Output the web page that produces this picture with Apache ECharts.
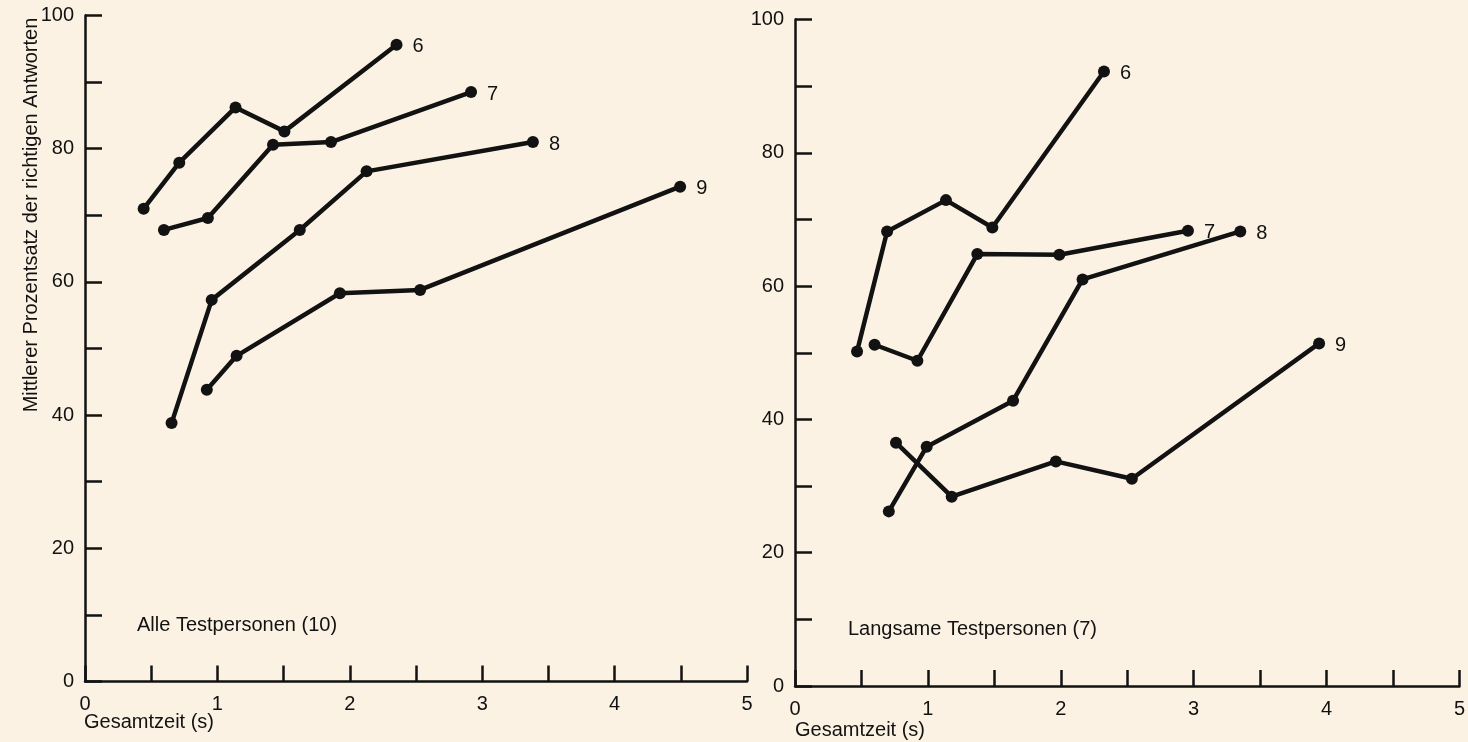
<!DOCTYPE html>
<html>
<head>
<meta charset="utf-8">
<script src="https://cdn.jsdelivr.net/npm/echarts@6/dist/echarts.min.js"></script>
<style>
html,body{margin:0;padding:0;background:#fbf2e4;}
#c{width:1468px;height:742px;}
</style>
</head>
<body>
<div id="c"></div>
<script>
// ---- Data ----
const seriesNames = ['6', '7', '8', '9'];
const xTickValues = [0, 1, 2, 3, 4, 5];
const yTickValues = [0, 20, 40, 60, 80, 100];

// Left panel: Alle Testpersonen (10)
const alle6X = [0.443, 0.712, 1.137, 1.506, 2.353];
const alle6Y = [71.0, 77.9, 86.2, 82.6, 95.6];
const alle7X = [0.596, 0.928, 1.420, 1.858, 2.916];
const alle7Y = [67.8, 69.6, 80.6, 81.0, 88.5];
const alle8X = [0.654, 0.957, 1.622, 2.127, 3.383];
const alle8Y = [38.8, 57.3, 67.8, 76.6, 81.0];
const alle9X = [0.920, 1.145, 1.925, 2.531, 4.495];
const alle9Y = [43.8, 48.9, 58.3, 58.8, 74.3];

// Right panel: Langsame Testpersonen (7)
const lang6X = [0.467, 0.693, 1.136, 1.485, 2.325];
const lang6Y = [50.2, 68.2, 72.9, 68.8, 92.2];
const lang7X = [0.599, 0.921, 1.372, 1.989, 2.957];
const lang7Y = [51.2, 48.8, 64.8, 64.7, 68.3];
const lang8X = [0.706, 0.991, 1.641, 2.164, 3.351];
const lang8Y = [26.2, 35.9, 42.8, 61.0, 68.2];
const lang9X = [0.760, 1.179, 1.963, 2.535, 3.944];
const lang9Y = [36.5, 28.4, 33.7, 31.1, 51.4];

const panelTitles = ['Alle Testpersonen (10)', 'Langsame Testpersonen (7)'];
const xAxisTitle = 'Gesamtzeit (s)';
const yAxisTitle = 'Mittlerer Prozentsatz der richtigen Antworten';

// ---- Build ----
const INK = '#121212';
const FONT = 'Liberation Sans, Arial, sans-serif';
const FS = 20;
const zip = (xs, ys) => xs.map((x, i) => [x, ys[i]]);
const leftSets = [zip(alle6X, alle6Y), zip(alle7X, alle7Y), zip(alle8X, alle8Y), zip(alle9X, alle9Y)];
const rightSets = [zip(lang6X, lang6Y), zip(lang7X, lang7Y), zip(lang8X, lang8Y), zip(lang9X, lang9Y)];

function xAxis(gi) {
  return {
    type: 'value', gridIndex: gi, min: 0, max: 5, interval: 0.5,
    axisLine: { show: true, lineStyle: { color: INK, width: 2.5 } },
    axisTick: { show: true, inside: true, length: 16, lineStyle: { color: INK, width: 2.5 } },
    axisLabel: { color: INK, fontSize: FS, fontFamily: FONT, margin: 13,
      formatter: v => xTickValues.includes(v) ? String(v) : '' },
    splitLine: { show: false }
  };
}
function yAxis(gi) {
  return {
    type: 'value', gridIndex: gi, min: 0, max: 100, interval: 10,
    axisLine: { show: true, lineStyle: { color: INK, width: 2.5 } },
    axisTick: { show: true, inside: true, length: 17, lineStyle: { color: INK, width: 2.5 } },
    axisLabel: { color: INK, fontSize: FS, fontFamily: FONT, margin: 11,
      formatter: v => yTickValues.includes(v) ? String(v) : '' },
    splitLine: { show: false }
  };
}
function lines(sets, gi) {
  return sets.map((d, i) => ({
    type: 'line', name: seriesNames[i], xAxisIndex: gi, yAxisIndex: gi,
    data: d, symbol: 'circle', symbolSize: 12, showSymbol: true,
    lineStyle: { color: INK, width: 4.5 }, itemStyle: { color: INK },
    animation: false,
    endLabel: { show: true, formatter: '{a}', color: INK, fontSize: FS, fontFamily: FONT, distance: 16, offset: [0, 2] }
  }));
}

const chart = echarts.init(document.getElementById('c'), null, { renderer: 'canvas' });
chart.setOption({
  backgroundColor: '#fbf2e4',
  animation: false,
  grid: [
    { left: 85, top: 15.5, width: 662, height: 666 },
    { left: 795, top: 19.5, width: 665, height: 666.5 }
  ],
  xAxis: [xAxis(0), xAxis(1)],
  yAxis: [yAxis(0), yAxis(1)],
  series: [...lines(leftSets, 0), ...lines(rightSets, 1)],
  graphic: [
    { type: 'text', left: 137, top: 615, style: { text: panelTitles[0], fill: INK, font: FS + 'px ' + FONT } },
    { type: 'text', left: 848, top: 619, style: { text: panelTitles[1], fill: INK, font: FS + 'px ' + FONT } },
    { type: 'text', left: 84, top: 712, style: { text: xAxisTitle, fill: INK, font: FS + 'px ' + FONT } },
    { type: 'text', left: 795, top: 720, style: { text: xAxisTitle, fill: INK, font: FS + 'px ' + FONT } },
    { type: 'text', x: 31, y: 215, rotation: Math.PI / 2,
      style: { text: yAxisTitle, fill: INK, font: FS + 'px ' + FONT, align: 'center', verticalAlign: 'middle' } }
  ]
});
</script>
</body>
</html>
